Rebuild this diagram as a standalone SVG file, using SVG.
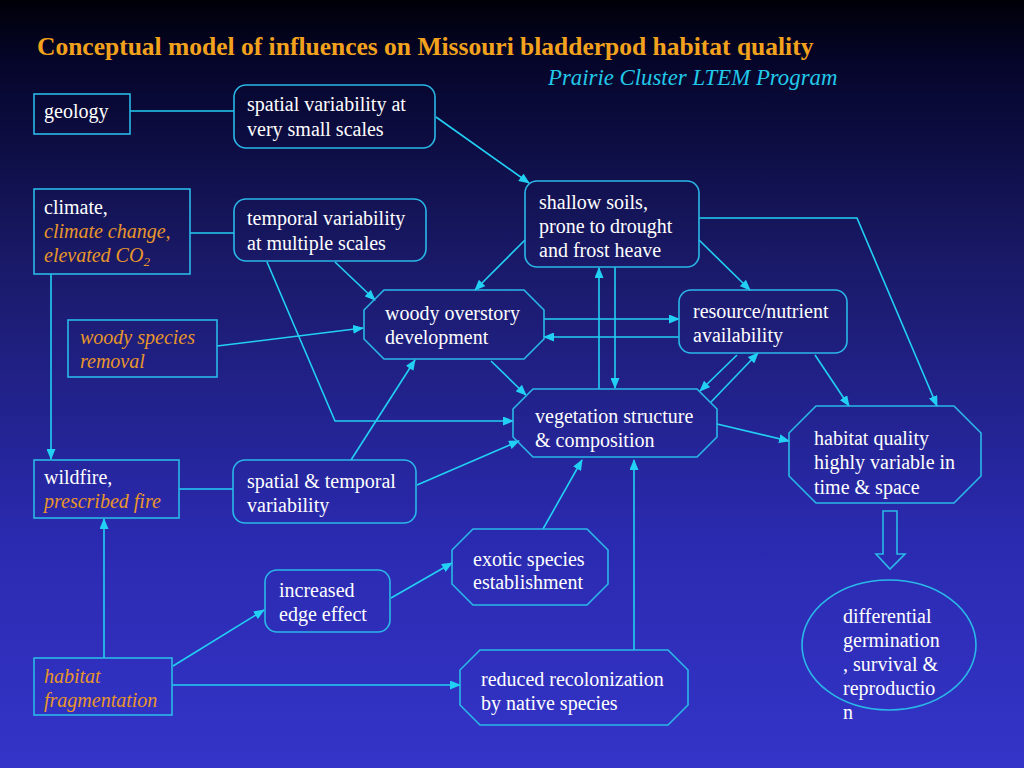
<svg xmlns="http://www.w3.org/2000/svg" width="1024" height="768" viewBox="0 0 1024 768">
<defs>
<linearGradient id="bg" x1="0" y1="0" x2="0" y2="1">
<stop offset="0" stop-color="#000008"/>
<stop offset="0.08" stop-color="#05052a"/>
<stop offset="0.35" stop-color="#1a1a6a"/>
<stop offset="0.7" stop-color="#2a2ab0"/>
<stop offset="1" stop-color="#3434c8"/>
</linearGradient>
<marker id="ah" markerUnits="userSpaceOnUse" markerWidth="11" markerHeight="9" refX="10" refY="4.5" orient="auto">
<path d="M0,0 L11,4.5 L0,9 z" fill="#22d0f4"/>
</marker>
<style>
.n{fill:none;stroke:#2ab8e8;stroke-width:1.6}
.c{fill:none;stroke:#22d0f4;stroke-width:1.6}
.a{marker-end:url(#ah)}
.t{font-family:'Liberation Serif','Times New Roman',serif;font-size:20px;fill:#ffffff}
.o{font-style:italic;fill:#e8962a}
.ti{font-family:'Liberation Serif','Times New Roman',serif;font-weight:bold;font-size:25.5px;fill:#f2a21c}
.st{font-family:'Liberation Serif','Times New Roman',serif;font-style:italic;font-size:22.8px;fill:#22c8e8}
</style>
</defs>
<rect x="0" y="0" width="1024" height="768" fill="url(#bg)"/>
<text class="ti" x="37" y="55">Conceptual model of influences on Missouri bladderpod habitat quality</text>
<text class="st" x="548" y="85">Prairie Cluster LTEM Program</text>

<g id="connectors">
<line class="c" x1="130" y1="111" x2="234" y2="111"/>
<line class="c" x1="190" y1="233" x2="234" y2="233"/>
<line class="c" x1="179" y1="489" x2="233" y2="489"/>
<line class="c a" x1="436" y1="117" x2="529" y2="183"/>
<line class="c a" x1="51" y1="274" x2="51" y2="459"/>
<line class="c a" x1="335" y1="262" x2="375" y2="300"/>
<polyline class="c a" points="267,262 335,421 513,421"/>
<line class="c a" x1="525" y1="240" x2="475" y2="290"/>
<line class="c a" x1="699" y1="240" x2="750" y2="290"/>
<polyline class="c a" points="699,218 857,218 937,406"/>
<line class="c a" x1="599" y1="389" x2="599" y2="268"/>
<line class="c a" x1="615" y1="267" x2="615" y2="388"/>
<line class="c a" x1="544" y1="319" x2="679" y2="319"/>
<line class="c a" x1="679" y1="337" x2="544" y2="337"/>
<line class="c a" x1="737" y1="355" x2="700" y2="391"/>
<line class="c a" x1="711" y1="402" x2="758" y2="353"/>
<line class="c a" x1="815" y1="355" x2="849" y2="406"/>
<line class="c a" x1="717" y1="424" x2="789" y2="441"/>
<line class="c a" x1="491" y1="361" x2="526" y2="395"/>
<line class="c a" x1="217" y1="346" x2="363" y2="328"/>
<line class="c a" x1="351" y1="460" x2="415" y2="360"/>
<line class="c a" x1="417" y1="485" x2="519" y2="441"/>
<line class="c a" x1="543" y1="529" x2="582" y2="460"/>
<line class="c a" x1="634" y1="650" x2="634" y2="460"/>
<line class="c a" x1="104" y1="658" x2="104" y2="519"/>
<line class="c a" x1="173" y1="666" x2="264" y2="610"/>
<line class="c a" x1="172" y1="685" x2="460" y2="685"/>
<line class="c a" x1="391" y1="598" x2="452" y2="563"/>
</g>

<g id="geology">
<rect class="n" x="34" y="94" width="96" height="40"/>
<text class="t" x="44" y="118">geology</text>
</g>
<g id="spatial-small">
<rect class="n" x="234" y="85" width="201" height="63" rx="12"/>
<text class="t" x="247" y="111">spatial variability at</text>
<text class="t" x="247" y="136">very small scales</text>
</g>
<g id="climate">
<rect class="n" x="34" y="189" width="156" height="85"/>
<text class="t" x="44" y="214">climate,</text>
<text class="t o" x="44" y="238">climate change,</text>
<text class="t o" x="44" y="262">elevated CO<tspan font-size="13" dy="4">2</tspan></text>
</g>
<g id="temporal-multi">
<rect class="n" x="234" y="199" width="192" height="62" rx="12"/>
<text class="t" x="247" y="225">temporal variability</text>
<text class="t" x="247" y="250">at multiple scales</text>
</g>
<g id="shallow-soils">
<rect class="n" x="525" y="181" width="174" height="86" rx="12"/>
<text class="t" x="539" y="209">shallow soils,</text>
<text class="t" x="539" y="233">prone to drought</text>
<text class="t" x="539" y="257">and frost heave</text>
</g>
<g id="woody-overstory">
<polygon class="n" points="384,290 524,290 544,310 544,339 524,359 384,359 364,339 364,310"/>
<text class="t" x="385" y="320">woody overstory</text>
<text class="t" x="385" y="344">development</text>
</g>
<g id="resource">
<rect class="n" x="679" y="290" width="168" height="63" rx="12"/>
<text class="t" x="693" y="318">resource/nutrient</text>
<text class="t" x="693" y="342">availability</text>
</g>
<g id="woody-removal">
<rect class="n" x="68" y="320" width="149" height="57"/>
<text class="t o" x="80" y="344">woody species</text>
<text class="t o" x="80" y="368">removal</text>
</g>
<g id="vegetation">
<polygon class="n" points="533,389 697,389 717,409 717,437 697,457 533,457 513,437 513,409"/>
<text class="t" x="535" y="423">vegetation structure</text>
<text class="t" x="535" y="447">&amp; composition</text>
</g>
<g id="habitat-quality">
<polygon class="n" points="816,406 954,406 981,433 981,476 954,503 816,503 789,476 789,433"/>
<text class="t" x="814" y="445">habitat quality</text>
<text class="t" x="814" y="469">highly variable in</text>
<text class="t" x="814" y="494">time &amp; space</text>
</g>
<g id="wildfire">
<rect class="n" x="34" y="460" width="145" height="58"/>
<text class="t" x="44" y="484">wildfire,</text>
<text class="t o" x="44" y="508">prescribed fire</text>
</g>
<g id="spatial-temporal">
<rect class="n" x="233" y="460" width="183" height="63" rx="12"/>
<text class="t" x="247" y="488">spatial &amp; temporal</text>
<text class="t" x="247" y="512">variability</text>
</g>
<g id="exotic">
<polygon class="n" points="473,529 587,529 608,550 608,584 587,605 473,605 452,584 452,550"/>
<text class="t" x="473" y="566">exotic species</text>
<text class="t" x="473" y="589">establishment</text>
</g>
<g id="edge-effect">
<rect class="n" x="265" y="570" width="125" height="62" rx="12"/>
<text class="t" x="279" y="597">increased</text>
<text class="t" x="279" y="621">edge effect</text>
</g>
<g id="fragmentation">
<rect class="n" x="34" y="658" width="138" height="57"/>
<text class="t o" x="44" y="683">habitat</text>
<text class="t o" x="44" y="707">fragmentation</text>
</g>
<g id="recolonization">
<polygon class="n" points="480,650 668,650 688,670 688,705 668,725 480,725 460,705 460,670"/>
<text class="t" x="481" y="686">reduced recolonization</text>
<text class="t" x="481" y="710">by native species</text>
</g>
<g id="big-arrow">
<polygon class="n" points="883,511 897,511 897,554 905,554 890,569 876,554 883,554"/>
</g>
<g id="outcome">
<ellipse class="n" cx="889" cy="645" rx="87" ry="65"/>
<text class="t" x="843" y="623">differential</text>
<text class="t" x="843" y="647">germination</text>
<text class="t" x="843" y="671">, survival &amp;</text>
<text class="t" x="843" y="695">reproductio</text>
<text class="t" x="843" y="719">n</text>
</g>
</svg>
